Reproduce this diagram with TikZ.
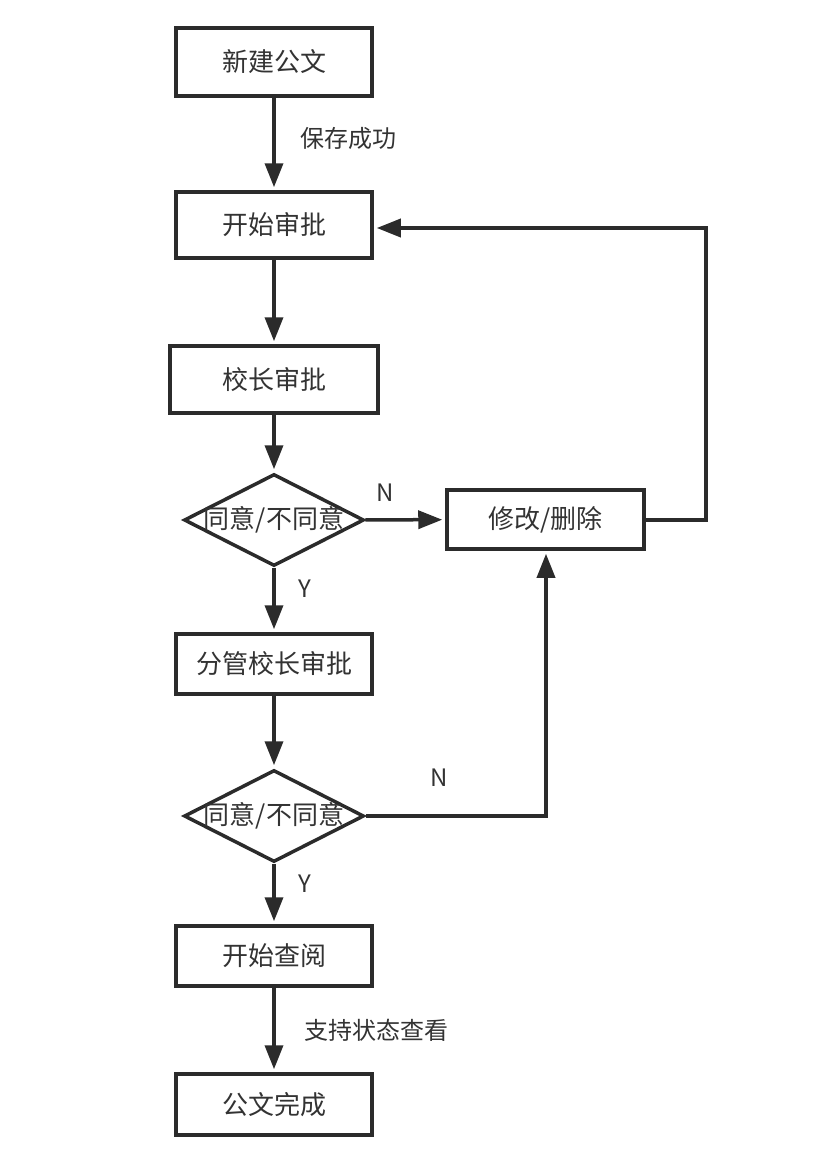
\documentclass[tikz,border=0pt]{standalone}
\usepackage{fontspec}
\setmainfont{Noto Sans CJK SC}
\usetikzlibrary{arrows.meta,shapes.geometric}
\definecolor{ln}{HTML}{2B2B2B}
\definecolor{tx}{HTML}{333333}
\tikzset{
  box/.style={draw=ln,line width=3.5pt,rectangle,inner sep=0pt,text=tx,font=\fontsize{26}{26}\selectfont},
  dia/.style={draw=ln,line width=3.5pt,diamond,inner sep=0pt,minimum width=180pt,minimum height=92pt,text=tx,font=\fontsize{26}{26}\selectfont},
  arr/.style={draw=ln,line width=3.5pt,line join=miter,-{Triangle[length=24pt,width=18pt]},shorten >=3pt},
  lbl/.style={text=tx,font=\fontsize{24}{24}\selectfont,inner sep=0pt}
}
\begin{document}
\begin{tikzpicture}[x=1pt,y=-1pt]
\useasboundingbox[fill=white] (0,0) rectangle (828,1154);
\node[box,minimum width=196pt,minimum height=68pt] (b1) at (274,62) {新建公文};
\node[box,minimum width=196pt,minimum height=66pt] (b2) at (274,225) {开始审批};
\node[box,minimum width=208pt,minimum height=67pt] (b3) at (274,379.5) {校长审批};
\node[dia] (d1) at (274,520) {\makebox[0pt]{同意/不同意}};
\node[box,minimum width=197pt,minimum height=59pt] (b4) at (545.5,519.5) {修改/删除};
\node[box,minimum width=196pt,minimum height=60pt] (b5) at (274,664) {分管校长审批};
\node[dia] (d2) at (274,816) {\makebox[0pt]{同意/不同意}};
\node[box,minimum width=196pt,minimum height=60pt] (b6) at (274,956) {开始查阅};
\node[box,minimum width=196pt,minimum height=61pt] (b7) at (274,1104.5) {公文完成};
\coordinate (c1) at (706,520);
\coordinate (c2) at (706,228);
\coordinate (c3) at (546,816);
\draw[arr] (b1) -- (b2);
\draw[arr] (b2) -- (b3);
\draw[arr] (b3) -- (d1);
\draw[arr] (d1) -- (b4);
\draw[arr] (d1) -- (b5);
\draw[arr] (b5) -- (d2);
\draw[arr] (d2) -- (b6);
\draw[arr] (b6) -- (b7);
\draw[arr] (b4.east |- c1) -- (c1) -- (c2) -- (b2.east |- c2);
\draw[arr] (d2.east) -- (c3) -- (c3 |- b4.south);
\node[lbl] (l1) at (348,138) {保存成功};
\node[lbl] (l2) at (385,493) {N};
\node[lbl] (l3) at (305,589) {Y};
\node[lbl] (l4) at (439,778) {N};
\node[lbl] (l5) at (305,884) {Y};
\node[lbl] (l6) at (376,1030) {支持状态查看};
\end{tikzpicture}
\end{document}
